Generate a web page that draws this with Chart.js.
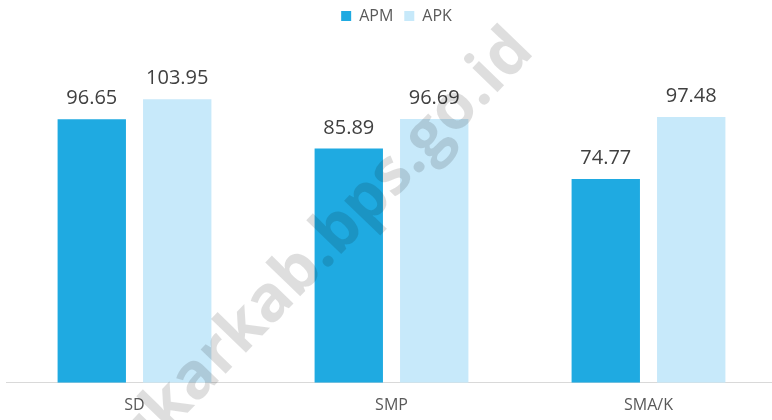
<!DOCTYPE html>
<html>
<head>
<meta charset="utf-8">
<script src="https://cdn.jsdelivr.net/npm/chart.js@4.4.1/dist/chart.umd.min.js"></script>
<style>
  html, body { margin: 0; padding: 0; background: #ffffff; overflow: hidden; }
  #wrap { width: 778px; height: 420px; }
</style>
</head>
<body>
<div id="wrap"><canvas id="c" width="778" height="420"></canvas></div>
<script>
const categories = ['SD', 'SMP', 'SMA/K'];
const apmValues = [96.65, 85.89, 74.77];
const apkValues = [103.95, 96.69, 97.48];
const seriesNames = ['APM', 'APK'];
const watermarkText = 'ukarkab.bps.go.id';

const labelPlugin = {
  id: 'valueLabels',
  afterDatasetsDraw(chart) {
    const ctx = chart.ctx;
    ctx.save();
    ctx.font = '20px "Open Sans", sans-serif';
    ctx.fillStyle = '#404040';
    ctx.textAlign = 'center';
    ctx.textBaseline = 'alphabetic';
    chart.data.datasets.forEach((ds, i) => {
      const meta = chart.getDatasetMeta(i);
      meta.data.forEach((bar, j) => {
        ctx.fillText(ds.data[j].toFixed(2), bar.x, bar.y - 15);
      });
    });
    ctx.restore();
  }
};

const legendShift = {
  id: 'legendShift',
  afterLayout(chart) {
    if (chart.legend) {
      chart.legend.left += 5;
      chart.legend.right += 5;
    }
  }
};

const watermarkPlugin = {
  id: 'watermark',
  afterDraw(chart) {
    const ctx = chart.ctx;
    ctx.save();
    ctx.font = 'bold 64px "Open Sans", sans-serif';
    const pre = ctx.measureText('ukarkab').width;
    const dot = ctx.measureText('.').width;
    ctx.translate(327, 260);
    ctx.rotate(-46 * Math.PI / 180);
    ctx.fillStyle = 'rgba(0,0,0,0.13)';
    ctx.textBaseline = 'alphabetic';
    ctx.fillText(watermarkText, -pre - dot / 2, 6);
    ctx.restore();
  }
};

new Chart(document.getElementById('c'), {
  type: 'bar',
  data: {
    labels: categories,
    datasets: [
      { label: seriesNames[0], data: apmValues, backgroundColor: '#1FAAE1', borderWidth: 0 },
      { label: seriesNames[1], data: apkValues, backgroundColor: '#C7E9FA', borderWidth: 0 }
    ]
  },
  options: {
    responsive: false,
    animation: false,
    layout: { padding: { left: 6, right: 1, top: -3, bottom: -8 } },
    datasets: { bar: { categoryPercentage: 0.665, barPercentage: 0.8 } },
    plugins: {
      legend: {
        display: true,
        position: 'top',
        labels: {
          boxWidth: 10, boxHeight: 10, padding: 11,
          color: '#595959',
          font: { size: 16, family: '"Open Sans", sans-serif' }
        }
      },
      tooltip: { enabled: false }
    },
    scales: {
      x: {
        grid: { display: false, drawTicks: false },
        border: { display: true, color: '#D9D9D9', width: 1 },
        ticks: { color: '#595959', padding: 13, font: { size: 16, family: '"Open Sans", sans-serif' } }
      },
      y: {
        display: false,
        min: 0,
        max: 127.9
      }
    }
  },
  plugins: [labelPlugin, legendShift, watermarkPlugin]
});
</script>
</body>
</html>
